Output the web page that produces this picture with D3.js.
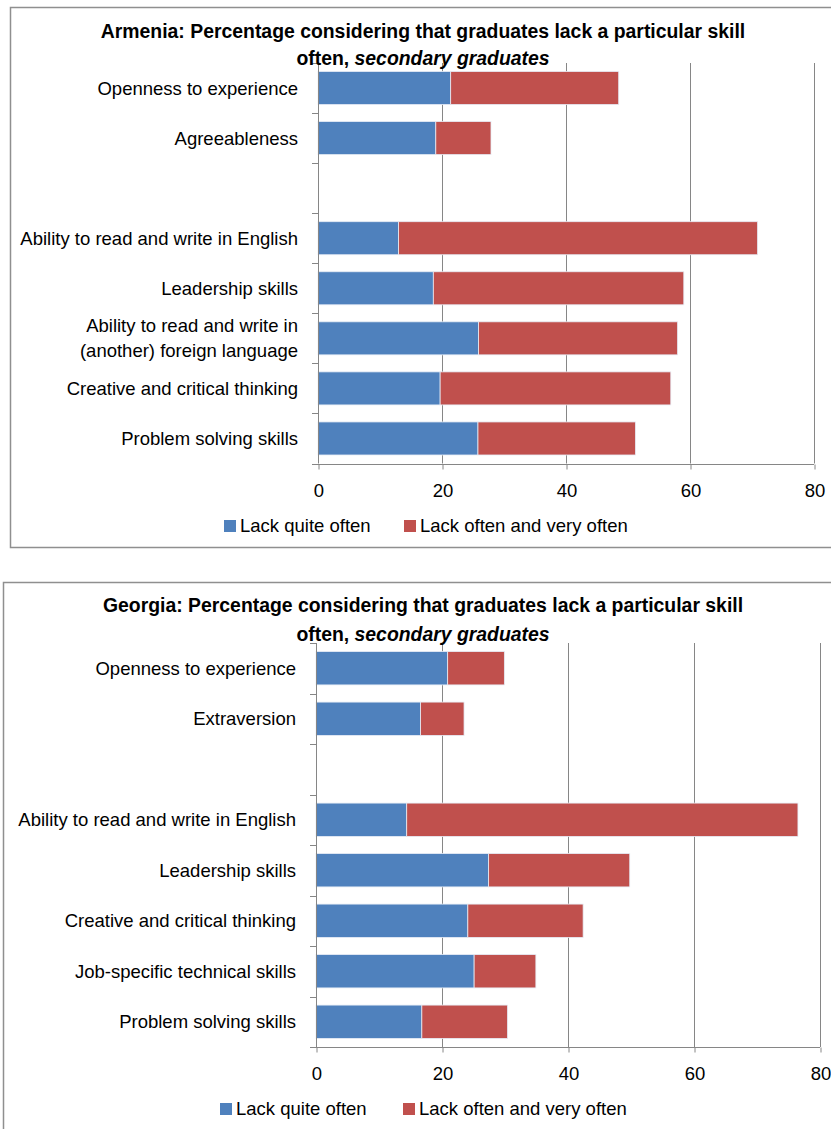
<!DOCTYPE html>
<html>
<head>
<meta charset="utf-8">
<script src="https://cdn.jsdelivr.net/npm/d3@7"></script>
<style>
  html, body { margin: 0; padding: 0; background: #ffffff; }
  svg { display: block; }
  text { font-family: "Liberation Sans", Arial, sans-serif; fill: #000; }
</style>
</head>
<body>
<svg id="chart" width="831" height="1129"></svg>
<script>
// ---------- DATA ----------
const seriesNames = ["Lack quite often", "Lack often and very often"];
const seriesColors = ["#4F81BD", "#C0504D"];
const xTicks = [0, 20, 40, 60, 80];

const armeniaTitle = ["Armenia: Percentage considering that graduates lack a particular skill", "often, ", "secondary graduates"];
const armeniaCategories = [
  "Openness to experience",
  "Agreeableness",
  "",
  "Ability to read and write in English",
  "Leadership skills",
  "Ability to read and write in\n(another) foreign language",
  "Creative and critical thinking",
  "Problem solving skills"
];
const armeniaQuiteOften     = [21.4, 19.0, null, 13.0, 18.6, 25.9, 19.7, 25.8];
const armeniaOftenVeryOften = [27.1,  8.9, null, 57.9, 40.4, 32.1, 37.2, 25.4];

const georgiaTitle = ["Georgia: Percentage considering that graduates lack a particular skill", "often, ", "secondary graduates"];
const georgiaCategories = [
  "Openness to experience",
  "Extraversion",
  "",
  "Ability to read and write in English",
  "Leadership skills",
  "Creative and critical thinking",
  "Job-specific technical skills",
  "Problem solving skills"
];
const georgiaQuiteOften     = [20.9, 16.6, null, 14.4, 27.4, 24.1, 25.1, 16.8];
const georgiaOftenVeryOften = [ 9.0,  6.9, null, 62.1, 22.4, 18.3,  9.8, 13.6];

// ---------- DRAW ----------
const svg = d3.select("#chart");
const gridColor = "#868686";

function drawChart(cfg) {
  const g = svg.append("g");

  // frame
  g.append("rect")
    .attr("x", cfg.frame[0]).attr("y", cfg.frame[1])
    .attr("width", cfg.frame[2]).attr("height", cfg.frame[3])
    .attr("fill", "#fff").attr("stroke", "#8f8f8f").attr("stroke-width", 1.5);

  const x = d3.scaleLinear().domain([0, 80]).range([cfg.x0, cfg.x1]);
  const y = d3.scaleBand().domain(d3.range(cfg.categories.length))
    .range([cfg.yTop, cfg.yBottom]).paddingInner(0.34).paddingOuter(0.17);

  // gridlines
  g.append("g").selectAll("line")
    .data(xTicks.filter(t => t > 0))
    .join("line")
    .attr("x1", d => Math.round(x(d)) + 0.5).attr("x2", d => Math.round(x(d)) + 0.5)
    .attr("y1", cfg.yTop).attr("y2", cfg.yBottom)
    .attr("stroke", gridColor).attr("stroke-width", 1);

  // stacked bars
  const rows = cfg.categories.map((c, i) => ({ i, a: cfg.s1[i], b: cfg.s2[i] }))
    .filter(d => d.a != null);
  const stack = d3.stack().keys(["a", "b"])(rows);
  stack.forEach((layer, k) => {
    g.append("g").selectAll("rect")
      .data(layer)
      .join("rect")
      .attr("x", d => x(d[0]))
      .attr("width", d => x(d[1]) - x(d[0]))
      .attr("y", d => y(d.data.i))
      .attr("height", y.bandwidth())
      .attr("fill", seriesColors[k])
      .attr("stroke", "#e6ecf5").attr("stroke-width", 0.8);
  });

  // y axis (category boundaries)
  const yAxisG = g.append("g");
  yAxisG.append("line")
    .attr("x1", cfg.x0 + 0.5).attr("x2", cfg.x0 + 0.5)
    .attr("y1", cfg.yTop).attr("y2", cfg.yBottom)
    .attr("stroke", gridColor);
  const step = y.step();
  yAxisG.selectAll("line.tk")
    .data(d3.range(cfg.categories.length + 1))
    .join("line").attr("class", "tk")
    .attr("x1", cfg.x0 - 6).attr("x2", cfg.x0)
    .attr("y1", d => Math.round(cfg.yTop + d * step) + 0.5)
    .attr("y2", d => Math.round(cfg.yTop + d * step) + 0.5)
    .attr("stroke", gridColor);

  // category labels
  cfg.categories.forEach((c, i) => {
    if (!c) return;
    const lines = c.split("\n");
    const cy = y(i) + y.bandwidth() / 2;
    const lh = 25;
    const t = g.append("text")
      .attr("text-anchor", "end")
      .attr("font-size", 18.5);
    lines.forEach((ln, j) => {
      t.append("tspan")
        .attr("x", cfg.x0 - 20)
        .attr("y", cy + (j - (lines.length - 1) / 2) * lh)
        .attr("dy", "0.35em")
        .text(ln);
    });
  });

  // x axis
  const xAxis = d3.axisBottom(x).tickValues(xTicks).tickSize(5).tickPadding(14).tickFormat(d3.format("d"));
  const xg = g.append("g")
    .attr("transform", `translate(0.5,${Math.round(cfg.yBottom) + 0.5})`)
    .call(xAxis);
  xg.select(".domain").attr("stroke", gridColor).attr("d", `M${cfg.x0 - 6.5},0H${cfg.x1 - 0.5}`);
  xg.selectAll(".tick line").attr("stroke", gridColor);
  xg.selectAll(".tick text").attr("font-size", 18.5).attr("font-family", '"Liberation Sans", Arial, sans-serif').attr("fill", "#000");

  // title
  const tcx = cfg.titleX;
  g.append("text").attr("x", tcx).attr("y", cfg.titleY[0]).attr("dy", "0.35em")
    .attr("text-anchor", "middle").attr("font-size", 19.4).attr("font-weight", "bold")
    .text(cfg.title[0]);
  const t2 = g.append("text").attr("x", tcx).attr("y", cfg.titleY[1]).attr("dy", "0.35em")
    .attr("text-anchor", "middle").attr("font-size", 19.4).attr("font-weight", "bold");
  t2.append("tspan").text(cfg.title[1]);
  t2.append("tspan").attr("font-style", "italic").text(cfg.title[2]);

  // legend
  seriesNames.forEach((name, k) => {
    const lx = cfg.legendX[k];
    g.append("rect").attr("x", lx).attr("y", cfg.legendY - 6)
      .attr("width", 12).attr("height", 12).attr("fill", seriesColors[k]);
    g.append("text").attr("x", lx + 16).attr("y", cfg.legendY).attr("dy", "0.35em")
      .attr("font-size", 18.5).text(name);
  });
}

drawChart({
  frame: [10.5, 7.5, 840, 540],
  x0: 318, x1: 814, yTop: 63, yBottom: 463.5,
  categories: armeniaCategories, s1: armeniaQuiteOften, s2: armeniaOftenVeryOften,
  title: armeniaTitle, titleX: 423, titleY: [31, 58],
  legendX: [224, 404], legendY: 526
});

drawChart({
  frame: [3.5, 582.5, 850, 560],
  x0: 316, x1: 820, yTop: 643, yBottom: 1047,
  categories: georgiaCategories, s1: georgiaQuiteOften, s2: georgiaOftenVeryOften,
  title: georgiaTitle, titleX: 423, titleY: [605, 634],
  legendX: [220, 403], legendY: 1109
});
</script>
</body>
</html>
